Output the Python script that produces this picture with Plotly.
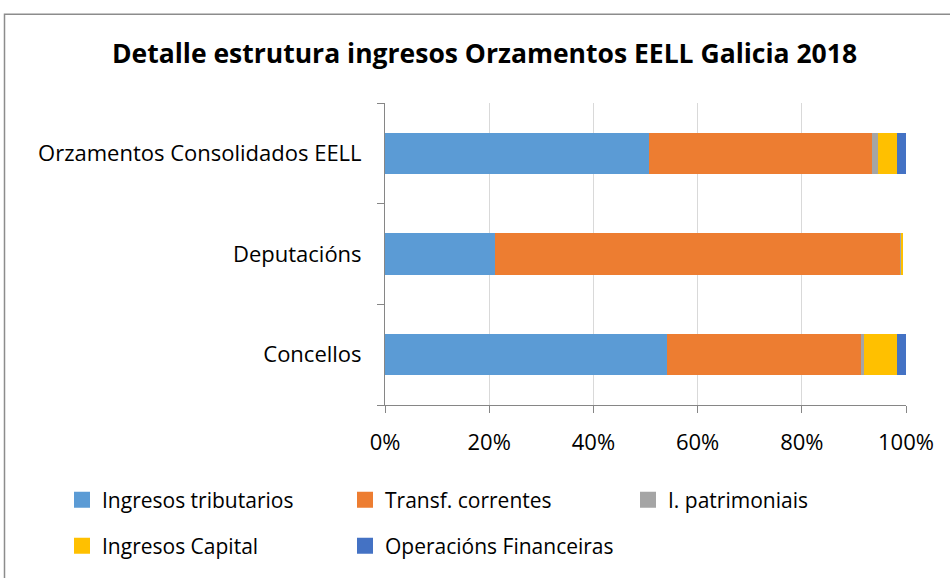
import plotly.graph_objects as go

categories = ["Concellos", "Deputacións", "Orzamentos Consolidados EELL"]
series_names = ["Ingresos tributarios", "Transf. correntes", "I. patrimoniais",
                "Ingresos Capital", "Operacións Financeiras"]
ingresos_tributarios = [54.2, 21.1, 50.6]
transf_correntes = [37.1, 77.8, 42.9]
i_patrimoniais = [0.7, 0.1, 1.1]
ingresos_capital = [6.2, 0.5, 3.6]
operacions_financeiras = [1.8, 0.0, 1.8]
tick_vals = [0, 20, 40, 60, 80, 100]
tick_text = ["0%", "20%", "40%", "60%", "80%", "100%"]

colors = ["#5B9BD5", "#ED7D31", "#A5A5A5", "#FFC000", "#4472C4"]
values = [ingresos_tributarios, transf_correntes, i_patrimoniais,
          ingresos_capital, operacions_financeiras]
legend_ids = ["legend", "legend", "legend", "legend2", "legend2"]

FONT = "Open Sans"
W, H = 950, 578
ML, MR, MT, MB = 385, 44, 103, 167
PW, PH = W - ML - MR, H - MT - MB

def px_x(p):
    return (p - ML) / PW

def px_y(p):
    return (H - MB - p) / PH

fig = go.Figure()
for name, vals, col in zip(series_names, values, colors):
    fig.add_trace(go.Bar(
        y=categories, x=vals, name=name, orientation="h",
        marker=dict(color=col, line=dict(width=0)), showlegend=False,
    ))
# legend entries (square swatches like the original)
for name, col, lg in zip(series_names, colors, legend_ids):
    fig.add_trace(go.Scatter(
        x=[None], y=[None], mode="markers", name=name, legend=lg,
        marker=dict(symbol="square", size=16, color=col, line=dict(width=0)),
        hoverinfo="skip",
    ))

legend_common = dict(
    orientation="h", xanchor="left", yanchor="middle",
    font=dict(family=FONT, size=21, color="#000000"),
    entrywidth=238, entrywidthmode="pixels", traceorder="normal",
    bgcolor="rgba(0,0,0,0)", itemwidth=30,
)

fig.update_layout(
    width=W, height=H,
    margin=dict(l=ML, r=MR, t=MT, b=MB, pad=0),
    paper_bgcolor="white", plot_bgcolor="white",
    barmode="stack", bargap=0.59,
    font=dict(family=FONT, size=20, color="#000000"),
    title=dict(text="<b>Detalle estrutura ingresos Orzamentos EELL Galicia 2018</b>",
               x=(111 + 858) / 2 / W, xanchor="center",
               y=1 - 54 / H, yanchor="middle",
               font=dict(family=FONT, size=26.5, color="#000000")),
    showlegend=True,
    legend=dict(x=px_x(62), y=px_y(508), **legend_common),
    legend2=dict(x=px_x(62), y=px_y(555), **legend_common),
    xaxis=dict(range=[0, 100], tickvals=tick_vals, ticktext=tick_text,
               showgrid=True, gridcolor="#D9D9D9", gridwidth=1,
               showline=True, linecolor="#868686", linewidth=1,
               ticks="outside", ticklen=7, tickcolor="#868686",
               ticklabelstandoff=11, zeroline=False,
               tickfont=dict(family=FONT, size=22, color="#000000")),
    yaxis=dict(showgrid=False, showline=True, linecolor="#868686", linewidth=1,
               ticks="outside", ticklen=7, tickcolor="#868686",
               tickson="boundaries", ticklabelstandoff=18,
               tickfont=dict(family=FONT, size=22, color="#000000")),
    shapes=[
        dict(type="rect", xref="paper", yref="paper",
             x0=px_x(4.5), x1=px_x(965), y0=px_y(12.5), y1=px_y(600),
             line=dict(color="#8C8C8C", width=1.5), fillcolor="rgba(0,0,0,0)",
             layer="below"),
    ],
)

fig.write_html("out.html", config={"displayModeBar": False},
               post_script="document.body.style.margin='0';")
